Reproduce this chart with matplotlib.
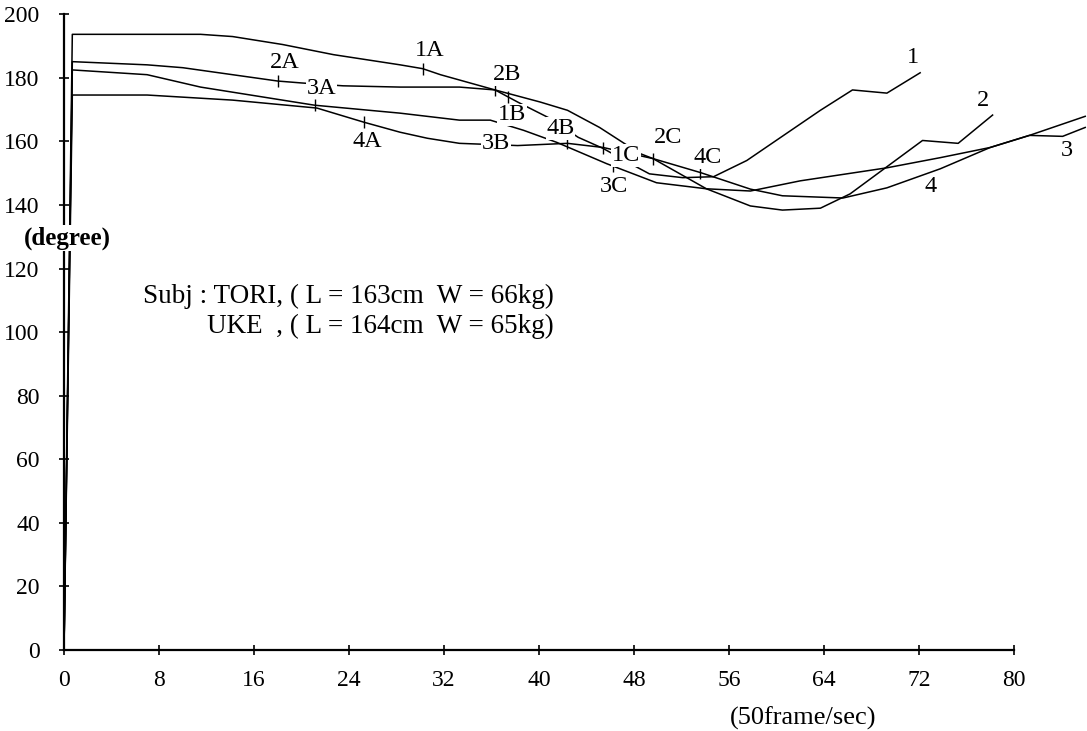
import matplotlib.pyplot as plt

plt.rcParams['font.family'] = ['Liberation Serif', 'DejaVu Serif']

# angle (degree) vs frame number, 4 joints
frames_1 = [0, 0.7, 11.5, 14.2, 18.4, 22.7, 28.3, 30.2, 31.7, 36.3, 38.2, 39.2, 40.9, 43.3, 45.4,
            47.7, 49.3, 52.1, 54.7, 57.5, 63.7, 66.4, 69.3, 72.1]
angle_1 = [0, 193.7, 193.7, 193.0, 190.5, 187.3, 184.1, 182.9, 181.0, 176.2, 172.4, 170.5, 167.3, 161.3, 157.8,
           153.0, 149.8, 148.6, 148.9, 154.0, 169.8, 176.2, 175.2, 181.6]

frames_2 = [0, 0.7, 7, 10, 18, 20, 23.5, 28.3, 33.3, 36.3, 40.1, 42.4, 45.1, 46.8, 48.5, 49.6,
            54.1, 57.8, 60.5, 63.7, 66.2, 72.3, 75.3, 78.2]
angle_2 = [0, 185.1, 184.1, 183.2, 179.0, 178.4, 177.5, 177.1, 177.1, 176.2, 172.4, 169.8, 164.4, 160.3, 156.2, 154.6,
           145.1, 139.7, 138.4, 139.0, 143.5, 160.3, 159.4, 168.3]

frames_3 = [0, 0.7, 7, 11.5, 18.4, 21.1, 28.3, 33.3, 35.9, 38.7, 41.5, 45.7, 49.9, 54.1, 57.8,
            62, 69.3, 73.8, 78, 81.3, 84.1, 86]
angle_3 = [0, 182.5, 181.0, 177.1, 173.0, 171.4, 168.9, 166.7, 166.7, 163.5, 159.7, 153.0, 147.0, 145.1, 144.4,
           147.6, 151.7, 154.9, 158.1, 161.9, 161.6, 164.4]

frames_4 = [0, 0.7, 7, 14.2, 21.3, 25.3, 28.3, 30.6, 33.3, 38.2, 42.4, 45.4, 49.6, 53.6, 57.8,
            60.5, 65.6, 69.3, 73.8, 78, 81.3, 86]
angle_4 = [0, 174.6, 174.6, 173.0, 170.5, 166.0, 162.9, 161.0, 159.4, 158.7, 159.4, 158.1, 154.6, 150.2, 145.0,
           142.9, 142.2, 145.4, 151.4, 158.1, 161.9, 167.9]

# phase marks on the curves
phase_names = ["1A", "2A", "3A", "4A", "1B", "2B", "3B", "4B", "1C", "2C", "3C", "4C"]
phase_x = [30.2, 18.0, 21.1, 25.3, 37.4, 36.3, 36.4, 42.4, 45.4, 49.6, 46.2, 53.6]
phase_y = [182.9, 179.0, 171.4, 166.0, 174.0, 176.2, 166.4, 159.4, 157.8, 154.6, 152.2, 150.2]

x_ticks = [0, 8, 16, 24, 32, 40, 48, 56, 64, 72, 80]
y_ticks = [0, 20, 40, 60, 80, 100, 120, 140, 160, 180, 200]

fig = plt.figure(figsize=(10.87, 7.31), dpi=100)
ax = fig.add_axes([0, 0, 1, 1])
ax.set_xlim(-5.39, 86.15)
ax.set_ylim(-25.5, 204.5)

for fx, ay in [(frames_1, angle_1), (frames_2, angle_2), (frames_3, angle_3), (frames_4, angle_4)]:
    ax.plot(fx, ay, color="black", lw=1.1, zorder=2)

# small tick marks (no mark drawn for 3B)
tx = [x for x, n in zip(phase_x, phase_names) if n != "3B"]
ty = [y for y, n in zip(phase_y, phase_names) if n != "3B"]
ax.plot(tx, ty, ls="none", marker="|", ms=8, mew=1.0, color="black", zorder=3)

# label offsets in pixels
offs = {"1A": (7, 18), "2A": (7, 19), "3A": (7, 17), "4A": (3, -19), "1B": (4, -18),
        "2B": (12, 15), "3B": (0, -22), "4B": (-7, 15), "1C": (23, -7), "2C": (15, 21),
        "3C": (1, -20), "4C": (7, 15)}
box = dict(facecolor="white", edgecolor="none", pad=0.6)
for n, x, y in zip(phase_names, phase_x, phase_y):
    ax.annotate(n, (x, y), xytext=offs[n], textcoords="offset pixels", ha="center", va="center",
                fontsize=17.5, bbox=box, zorder=4)

ax.annotate("1", (frames_1[-1], angle_1[-1]), xytext=(-7, 15), textcoords="offset pixels",
            ha="center", va="center", fontsize=17.5)
ax.annotate("2", (frames_2[-1], angle_2[-1]), xytext=(-10, 15), textcoords="offset pixels",
            ha="center", va="center", fontsize=17.5)
ax.annotate("3", (frames_3[-2], angle_3[-2]), xytext=(4, -14), textcoords="offset pixels",
            ha="center", va="center", fontsize=17.5)
ax.annotate("4", (frames_4[18], angle_4[18]), xytext=(-10, -18), textcoords="offset pixels",
            ha="center", va="center", fontsize=17.5)

# axes drawn through the origin
for s in ["top", "right"]:
    ax.spines[s].set_visible(False)
ax.spines["left"].set_position(("data", 0))
ax.spines["bottom"].set_position(("data", 0))
ax.spines["left"].set_bounds(0, 200)
ax.spines["bottom"].set_bounds(0, 80)
ax.spines["left"].set_linewidth(1.6)
ax.spines["bottom"].set_linewidth(1.6)
ax.set_xticks(x_ticks)
ax.set_yticks(y_ticks)
ax.tick_params(axis="both", direction="inout", length=7, width=1.2, labelsize=17)
ax.tick_params(axis="x", pad=11)
ax.tick_params(axis="y", pad=14)

fig.text(67 / 1087, 1 - 238 / 731, "(degree)", ha="center", va="center", fontsize=18, fontweight="bold",
         bbox=dict(facecolor="white", edgecolor="none", pad=1))
fig.text(803 / 1087, 1 - 718 / 731, "(50frame/sec)", ha="center", va="center", fontsize=19)
fig.text(554 / 1087, 1 - 296 / 731, "Subj : TORI, ( L = 163cm  W = 66kg)", ha="right", va="center", fontsize=19.5)
fig.text(554 / 1087, 1 - 326 / 731, "UKE  , ( L = 164cm  W = 65kg)", ha="right", va="center", fontsize=19.5)

fig.savefig("out.png", dpi=100)
